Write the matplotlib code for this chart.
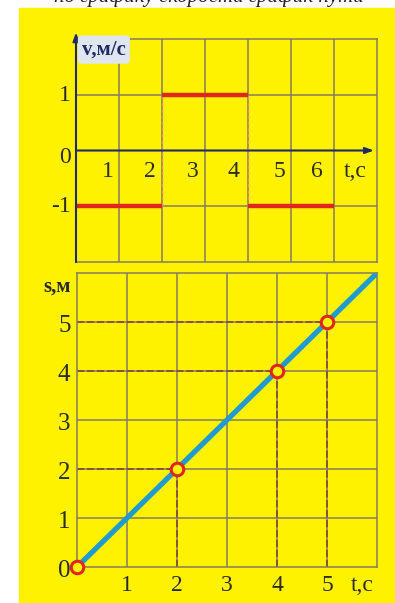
import numpy as np
import matplotlib.pyplot as plt
from matplotlib.patches import Rectangle

# ---- data ----
# velocity graph: v(t) piecewise constant
v_t_start = [0, 2, 4]
v_t_end = [2, 4, 6]
v_values = [-1, 1, -1]
v_xticks = [1, 2, 3, 4, 5, 6]
v_yticks = [1, 0, -1]

# distance graph: s(t) = |v| * t
s_line_t = [0, 6]
s_line_s = [0, 6]
s_marked_t = [0, 2, 4, 5]
s_marked_s = [0, 2, 4, 5]
s_xticks = [1, 2, 3, 4, 5]
s_yticks = [0, 1, 2, 3, 4, 5]

YELLOW = "#fff200"
GRID = "#867a5e"
NAVY = "#1f2a66"
TXT = "#2b2b2b"
RED = "#e1261c"
BLUE = "#1f9bd0"
SERIF = "Liberation Serif"

W, H = 395, 603
fig = plt.figure(figsize=(W / 100, H / 100), dpi=100)
fig.patch.set_facecolor("white")

def rect(x0, y0, x1, y1):
    # pixel box (top-left origin) -> figure fraction
    return [x0 / W, 1 - y1 / H, (x1 - x0) / W, (y1 - y0) / H]

# yellow panel (behind the axes)
fig.patches.append(Rectangle((19 / W, 0), 1 - 19 / W, 1 - 8 / H,
                             transform=fig.transFigure, color=YELLOW, zorder=-5))

# caption at the very top, mostly cut off as in the source
fig.text(0.53, 1 - 2 / H, "по графику скорости график пути",
         ha="center", va="baseline", fontsize=15, style="italic",
         family=SERIF, color="#222222")

# ===============================
# velocity plot
# ===============================
ax1 = fig.add_axes(rect(76, 39, 377, 262))
ax1.set_xlim(0, 7)
ax1.set_ylim(-2, 2)
ax1.set_facecolor("none")
for sp in ax1.spines.values():
    sp.set_color(GRID)
    sp.set_linewidth(1.1)
ax1.set_xticks([])
ax1.set_yticks([])
for x in range(1, 7):
    ax1.axvline(x, color=GRID, lw=1.1, zorder=1)
for y in [-1, 1]:
    ax1.axhline(y, color=GRID, lw=1.1, zorder=1)

# connectors at the jumps
for t in [2, 4]:
    ax1.plot([t, t], [-1, 1], color="#e88a80", lw=0.9, ls=(0, (3, 2)), zorder=2)

for t0, t1, v in zip(v_t_start, v_t_end, v_values):
    ax1.plot([t0, t1], [v, v], color=RED, lw=3.2, solid_capstyle="butt", zorder=3)

# axes with arrows
ax1.annotate("", xy=(6.93, 0), xytext=(0, 0),
             arrowprops=dict(arrowstyle="-|>,head_length=0.5,head_width=0.18",
                             color=NAVY, lw=1.5, shrinkA=0, shrinkB=0), zorder=4)
ax1.annotate("", xy=(0, 2.12), xytext=(0, -2),
             arrowprops=dict(arrowstyle="-|>,head_length=0.5,head_width=0.18",
                             color=NAVY, lw=1.5, shrinkA=0, shrinkB=0),
             annotation_clip=False, zorder=4)

xlab_pos = [0.74, 1.72, 2.72, 3.67, 4.72, 5.6]
for t, xp in zip(v_xticks, xlab_pos):
    ax1.text(xp, -0.38, str(t), ha="center", va="center", fontsize=17,
             family=SERIF, color=TXT)
ax1.text(6.5, -0.38, "t,с", ha="center", va="center", fontsize=17,
         family=SERIF, color=TXT)
for v, yp in zip(v_yticks, [0.98, -0.12, -1.0]):
    ax1.text(-0.12, yp, str(v), ha="right", va="center", fontsize=17,
             family=SERIF, color=TXT, clip_on=False)

ax1.text(0.14, 1.81, "v,м/с", ha="left", va="center", fontsize=15,
         family=SERIF, color=NAVY, fontweight="bold",
         bbox=dict(boxstyle="round,pad=0.2", fc="#dfe6ee", ec="none"), zorder=5)

# ===============================
# distance plot
# ===============================
ax2 = fig.add_axes(rect(77, 273, 377, 567))
ax2.set_xlim(0, 6)
ax2.set_ylim(0, 6)
ax2.set_facecolor("none")
for sp in ax2.spines.values():
    sp.set_color(GRID)
    sp.set_linewidth(1.1)
ax2.set_xticks([])
ax2.set_yticks([])
for x in range(1, 6):
    ax2.axvline(x, color=GRID, lw=1.1, zorder=1)
for y in range(1, 6):
    ax2.axhline(y, color=GRID, lw=1.1, zorder=1)

for t, s in zip(s_marked_t[1:], s_marked_s[1:]):
    ax2.plot([0, t], [s, s], color="#8a4b3c", lw=1.3, ls=(0, (4, 1.5)), zorder=2)
    ax2.plot([t, t], [0, s], color="#8a4b3c", lw=1.3, ls=(0, (4, 1.5)), zorder=2)

ax2.plot(s_line_t, s_line_s, color=BLUE, lw=3.8, solid_capstyle="round", zorder=3)
ax2.plot(s_marked_t, s_marked_s, ls="none", marker="o", ms=9, mfc=YELLOW,
         mec=RED, mew=2.2, zorder=4, clip_on=False)

for t in s_xticks:
    ax2.text(t, -0.37, str(t), ha="center", va="center", fontsize=17,
             family=SERIF, color=TXT, clip_on=False)
ax2.text(5.7, -0.37, "t,с", ha="center", va="center", fontsize=17,
         family=SERIF, color=TXT, clip_on=False)
for s in s_yticks:
    ax2.text(-0.13, s - 0.08, str(s), ha="right", va="center", fontsize=18,
             family=SERIF, color=TXT, clip_on=False)
ax2.text(-0.12, 5.73, "s,м", ha="right", va="center", fontsize=15,
         family=SERIF, color=TXT, fontweight="bold", clip_on=False)

fig.savefig("out.png", dpi=100)
